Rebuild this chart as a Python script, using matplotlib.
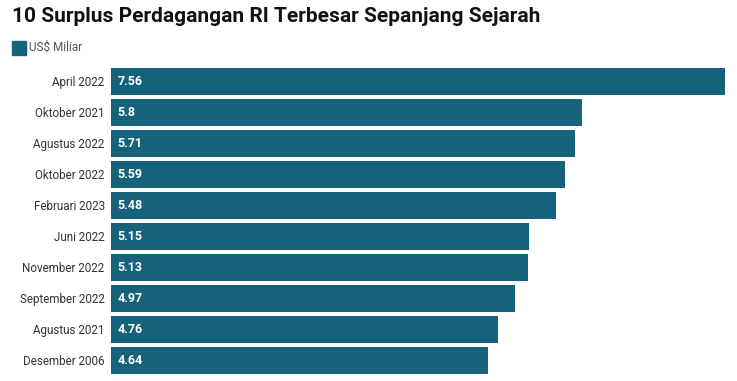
import matplotlib.pyplot as plt
from matplotlib.patches import Rectangle

# Data
# ----
months = ["April 2022", "Oktober 2021", "Agustus 2022", "Oktober 2022", "Februari 2023",
          "Juni 2022", "November 2022", "September 2022", "Agustus 2021", "Desember 2006"]
surplus = [7.56, 5.8, 5.71, 5.59, 5.48, 5.15, 5.13, 4.97, 4.76, 4.64]
value_labels = ["7.56", "5.8", "5.71", "5.59", "5.48", "5.15", "5.13", "4.97", "4.76", "4.64"]

BAR_COLOR = "#17627b"
W, H = 737, 381

plt.rcParams['font.family'] = ['Roboto', 'DejaVu Sans']

fig = plt.figure(figsize=(W / 100, H / 100), dpi=100)
ax = fig.add_axes([111 / W, (H - 375.85) / H, (725 - 111) / W, 310 / H])

pos = list(range(len(months)))
ax.barh(pos, surplus, height=0.86, color=BAR_COLOR)
ax.set_xlim(0, 7.56)
ax.set_ylim(9.5, -0.5)

ax.set_yticks(pos)
ax.set_yticklabels(months, fontsize=8.4, color="#333333")
ax.tick_params(axis='y', length=0, pad=4.5)
ax.set_xticks([])
for s in ax.spines.values():
    s.set_visible(False)

# value labels inside bars
for i, (v, lab) in enumerate(zip(surplus, value_labels)):
    ax.text(0.08, i, lab, color="white", fontsize=9, fontweight="bold",
            va="center", ha="left")

# title and legend
fig.text(12 / W, 1 - 17 / H, "10 Surplus Perdagangan RI Terbesar Sepanjang Sejarah",
         fontsize=15, fontweight="bold", color="#111111", va="center", ha="left")
fig.patches.append(Rectangle((12 / W, 1 - 55 / H), 14 / W, 14 / H,
                             transform=fig.transFigure, color=BAR_COLOR))
fig.text(29 / W, 1 - 47 / H, r"US\$ Miliar", fontsize=8.5, color="#555555",
         va="center", ha="left")

plt.savefig("out.png", dpi=100)
